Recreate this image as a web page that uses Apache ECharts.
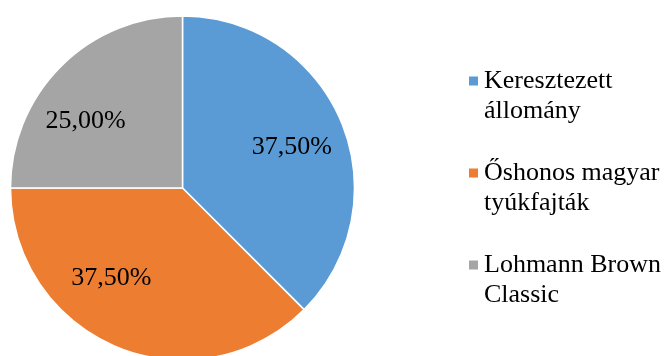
<!DOCTYPE html>
<html>
<head>
<meta charset="utf-8">
<script src="https://cdn.jsdelivr.net/npm/echarts@6/dist/echarts.min.js"></script>
<style>
  html, body { margin: 0; padding: 0; background: #ffffff; }
  #chart { width: 665px; height: 356px; }
</style>
</head>
<body>
<div id="chart"></div>
<script>
// Share of flocks by breed group (percent)
const categories = ['Keresztezett állomány', 'Őshonos magyar tyúkfajták', 'Lohmann Brown Classic'];
const shares = [37.5, 37.5, 25.0];

// Styling
const sliceColors = ['#5B9BD5', '#ED7D31', '#A5A5A5'];
const labelOffsets = [[27, -7], [-37, 8], [-34, -4]];
const serif = '"Liberation Serif", "Times New Roman", serif';

const chart = echarts.init(document.getElementById('chart'), null, { renderer: 'canvas' });

const formatPct = v => v.toFixed(2).replace('.', ',') + '%';

chart.setOption({
  animation: false,
  backgroundColor: '#ffffff',
  color: sliceColors,
  legend: {
    orient: 'vertical',
    left: 467,
    top: 36,
    padding: 0,
    itemWidth: 11,
    itemHeight: 11,
    itemGap: 2,
    icon: 'rect',
    data: categories,
    // wrap before the last word; a blank first line keeps the marker level with the top line
    formatter: name => '\n' + name.replace(/ (\S+)$/, '\n$1'),
    textStyle: {
      fontFamily: serif,
      fontSize: 26,
      lineHeight: 30,
      color: '#000000'
    }
  },
  series: [{
    type: 'pie',
    center: [182.5, 188],
    radius: [0, 172],
    startAngle: 90,
    clockwise: true,
    silent: true,
    itemStyle: { borderColor: '#ffffff', borderWidth: 1.5 },
    label: {
      show: true,
      position: 'inside',
      fontFamily: serif,
      fontSize: 26,
      color: '#000000',
      formatter: p => formatPct(p.value)
    },
    labelLine: { show: false },
    data: categories.map((name, i) => ({
      name,
      value: shares[i],
      label: { offset: labelOffsets[i] }
    }))
  }]
});
</script>
</body>
</html>
